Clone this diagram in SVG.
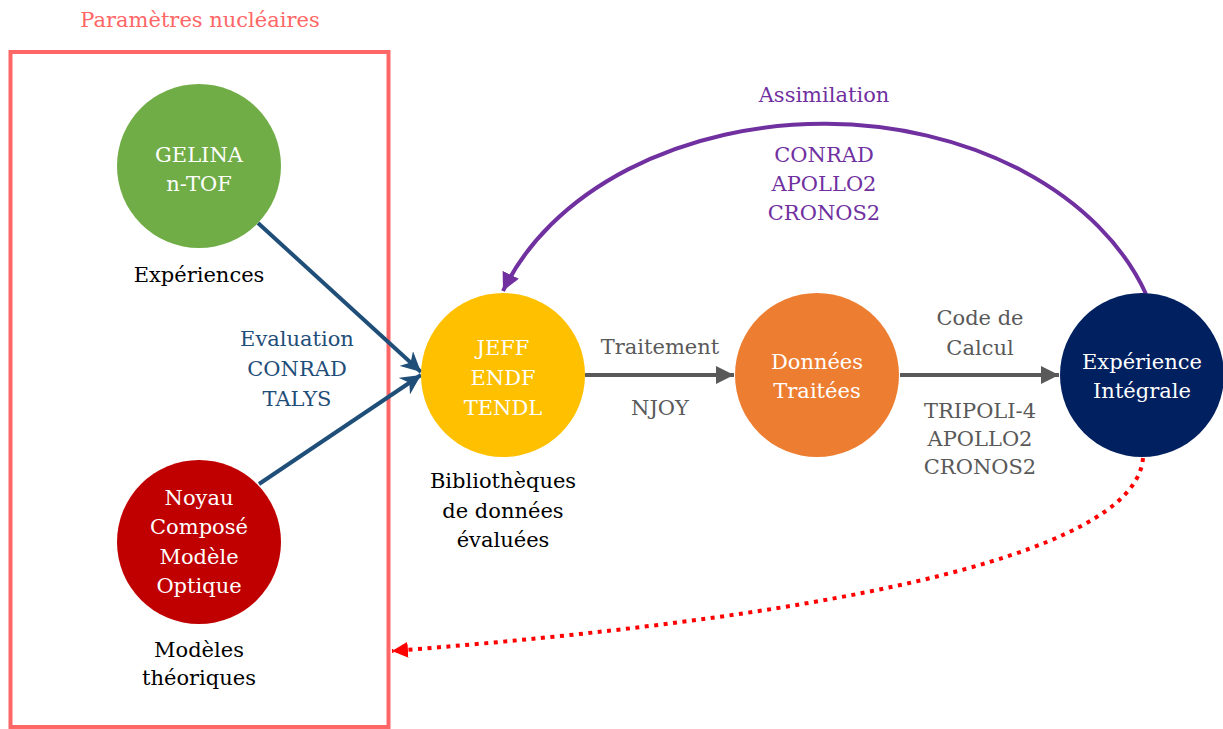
<svg xmlns="http://www.w3.org/2000/svg" width="1223" height="729" viewBox="0 0 1223 729">
<style>
text{font-family:"DejaVu Serif","Liberation Serif",serif;font-size:21px;text-anchor:middle}
.w{fill:#ffffff}
.k{fill:#000000}
.g{fill:#595959}
.b{fill:#1F4E79}
.p{fill:#7030A0}
.r{fill:#FF6666}
</style>
<defs>
<marker id="ag" viewBox="0 0 10 10" refX="10" refY="5" markerWidth="4.5" markerHeight="4.5" orient="auto" markerUnits="strokeWidth"><path d="M0,0 L10,5 L0,10 z" fill="#595959"/></marker>
<marker id="ab" viewBox="0 0 10 10" refX="10" refY="5" markerWidth="5" markerHeight="5" orient="auto" markerUnits="strokeWidth"><path d="M0,0 L10,5 L0,10 L3,5 z" fill="#1F4E79"/></marker>
<marker id="ap" viewBox="0 0 10 10" refX="10" refY="5" markerWidth="4.5" markerHeight="4.5" orient="auto" markerUnits="strokeWidth"><path d="M0,0 L10,5 L0,10 z" fill="#7030A0"/></marker>
<marker id="ar" viewBox="0 0 10 10" refX="10" refY="5" markerWidth="4" markerHeight="4" orient="auto" markerUnits="strokeWidth"><path d="M0,0 L10,5 L0,10 z" fill="#FF0000"/></marker>
</defs>
<rect width="1223" height="729" fill="#ffffff"/>
<g id="frame">
<rect x="10.5" y="52" width="378" height="675" fill="none" stroke="#FF6666" stroke-width="4"/>
<text class="r" x="200" y="27">Paramètres nucléaires</text>
</g>
<g id="connectors">
<path d="M258,223 L421,372" fill="none" stroke="#1F4E79" stroke-width="4" marker-end="url(#ab)"/>
<path d="M259,484 L421,375" fill="none" stroke="#1F4E79" stroke-width="4" marker-end="url(#ab)"/>
<path d="M585,375 L734,375" fill="none" stroke="#595959" stroke-width="4" marker-end="url(#ag)"/>
<path d="M900,375 L1059,375" fill="none" stroke="#595959" stroke-width="4" marker-end="url(#ag)"/>
<path d="M1146,294 A340,250 0 0 0 503,291" fill="none" stroke="#7030A0" stroke-width="4" marker-end="url(#ap)"/>
<path d="M1143,458 C1135,560 800,620 392,651" fill="none" stroke="#FF0000" stroke-width="4" stroke-dasharray="4 5.5" marker-end="url(#ar)"/>
<text class="b" x="297" y="346">Evaluation</text>
<text class="b" x="297" y="376">CONRAD</text>
<text class="b" x="297" y="406">TALYS</text>
<text class="g" x="660" y="354">Traitement</text>
<text class="g" x="660" y="415">NJOY</text>
<text class="g" x="980" y="325">Code de</text>
<text class="g" x="980" y="355">Calcul</text>
<text class="g" x="980" y="418">TRIPOLI-4</text>
<text class="g" x="980" y="446">APOLLO2</text>
<text class="g" x="980" y="474">CRONOS2</text>
<text class="p" x="824" y="102">Assimilation</text>
<text class="p" x="824" y="162">CONRAD</text>
<text class="p" x="824" y="191">APOLLO2</text>
<text class="p" x="824" y="220">CRONOS2</text>
</g>
<g id="node-gelina">
<circle cx="199" cy="166" r="82" fill="#70AD47"/>
<text class="w" x="199" y="162">GELINA</text>
<text class="w" x="199" y="191">n-TOF</text>
<text class="k" x="199" y="282">Expériences</text>
</g>
<g id="node-noyau">
<circle cx="199" cy="542" r="82" fill="#C00000"/>
<text class="w" x="199" y="505">Noyau</text>
<text class="w" x="199" y="534">Composé</text>
<text class="w" x="199" y="564">Modèle</text>
<text class="w" x="199" y="593">Optique</text>
<text class="k" x="199" y="657">Modèles</text>
<text class="k" x="199" y="685">théoriques</text>
</g>
<g id="node-jeff">
<circle cx="503" cy="375" r="82" fill="#FFC000"/>
<text class="w" x="503" y="355">JEFF</text>
<text class="w" x="503" y="385">ENDF</text>
<text class="w" x="503" y="415">TENDL</text>
<text class="k" x="503" y="488">Bibliothèques</text>
<text class="k" x="503" y="518">de données</text>
<text class="k" x="503" y="547">évaluées</text>
</g>
<g id="node-donnees">
<circle cx="817" cy="375" r="82" fill="#ED7D31"/>
<text class="w" x="817" y="369">Données</text>
<text class="w" x="817" y="398">Traitées</text>
</g>
<g id="node-experience">
<circle cx="1142" cy="375" r="82" fill="#002060"/>
<text class="w" x="1142" y="369">Expérience</text>
<text class="w" x="1142" y="398">Intégrale</text>
</g>
</svg>
